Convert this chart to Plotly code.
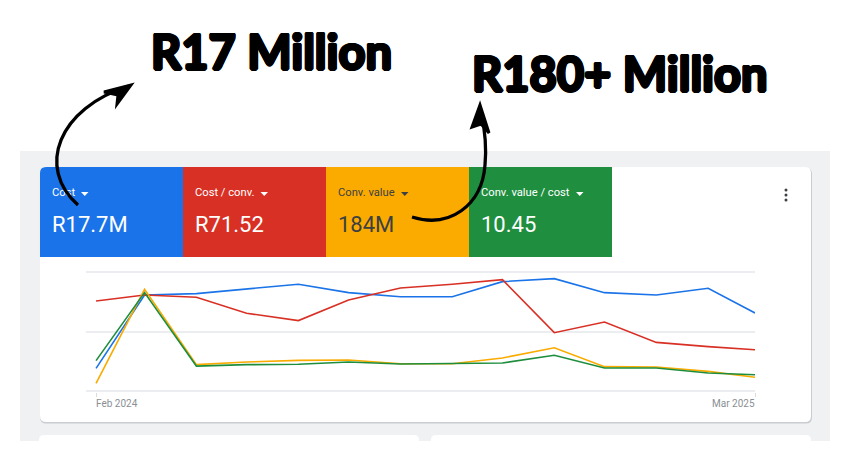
"""Ads overview card with four metric tiles and hand-drawn callouts."""

import plotly.graph_objects as go

W, H = 849, 453

months = ["2024-02-01", "2024-03-01", "2024-04-01", "2024-05-01", "2024-06-01", "2024-07-01", "2024-08-01",
          "2024-09-01", "2024-10-01", "2024-11-01", "2024-12-01", "2025-01-01", "2025-02-01", "2025-03-01"]

# each series is on its own hidden scale in the original, read here as % of chart height
cost = [18.9, 80.8, 82.0, 85.6, 89.9, 82.8, 79.4, 79.4, 92.1, 94.6, 82.8, 80.8, 86.5, 65.6]
cost_per_conv = [75.8, 80.8, 78.9, 65.4, 59.2, 76.6, 86.8, 89.9, 93.8, 49.0, 58.0, 40.8, 37.2, 34.6]
conv_value = [6.2, 85.6, 22.0, 24.2, 25.6, 25.9, 22.8, 22.8, 27.6, 36.3, 20.3, 20.0, 16.3, 11.3]
value_per_cost = [25.4, 82.8, 20.8, 22.0, 22.3, 24.2, 22.5, 22.8, 23.4, 29.9, 19.2, 19.2, 14.9, 13.5]

tile_labels = ["Cost", "Cost / conv.", "Conv. value", "Conv. value / cost"]
tile_values = ["R17.7M", "R71.52", "184M", "10.45"]

COLORS = {
    "blue": "#1a73e8",
    "red": "#d93025",
    "orange": "#f9ab00",
    "green": "#1e8e3e",
    "panel": "#eff1f3",
    "grid": "#ebedf0",
    "dark": "#3c4043",
    "gray": "#8a8f94",
}


def fx(x):
    return x / W


def fy(y):
    return 1 - y / H


def path(d):
    """Turn a list of (command, px, py...) into an SVG path in paper coordinates."""
    out = []
    for cmd, *pts in d:
        coords = " ".join(f"{fx(pts[i]):.5f},{fy(pts[i + 1]):.5f}" for i in range(0, len(pts), 2))
        out.append(f"{cmd} {coords}")
    return " ".join(out)


def rect(x0, y0, x1, y1, color, layer="below"):
    return dict(type="rect", xref="paper", yref="paper", x0=fx(x0), x1=fx(x1), y0=fy(y0), y1=fy(y1),
                fillcolor=color, line_width=0, layer=layer)


def rounded(x0, y0, x1, y1, r, color):
    d = path([("M", x0 + r, y0), ("L", x1 - r, y0), ("Q", x1, y0, x1, y0 + r), ("L", x1, y1 - r),
              ("Q", x1, y1, x1 - r, y1), ("L", x0 + r, y1), ("Q", x0, y1, x0, y1 - r),
              ("L", x0, y0 + r), ("Q", x0, y0, x0 + r, y0)]) + " Z"
    return dict(type="path", xref="paper", yref="paper", path=d, fillcolor=color, line_width=0, layer="below")


def text(s, x, y, size, color, family="Roboto", anchor="left", **font):
    return dict(text=s, xref="paper", yref="paper", x=fx(x), y=fy(y), xanchor=anchor, yanchor="middle",
                showarrow=False, font=dict(size=size, color=color, family=family, **font))


fig = go.Figure()
for name, values, color in [
    ("Cost", cost, COLORS["blue"]),
    ("Cost / conv.", cost_per_conv, COLORS["red"]),
    ("Conv. value", conv_value, COLORS["orange"]),
    ("Conv. value / cost", value_per_cost, COLORS["green"]),
]:
    fig.add_trace(go.Scatter(x=months, y=values, mode="lines", name=name,
                             line=dict(color=color, width=1.6), hoverinfo="skip"))

shapes = [
    rect(20, 151, 830, 441, COLORS["panel"]),
    rounded(39, 435, 419, 445, 5, "#ffffff"),
    rounded(431, 435, 811, 445, 5, "#ffffff"),
    rect(0, 441, W, H, "#ffffff"),
    rounded(40, 168, 812, 423.5, 6, "#c9ccd0"),
    rounded(40, 167, 811, 422, 6, "#ffffff"),
]

# metric tiles
tile_colors = [COLORS["blue"], "#d93025", "#fbab00", "#1f8e3f"]
tile_x = [40, 183, 326, 469, 612]
caret_x = [81, 260.5, 401, 576]
ink = ["#ffffff", "#ffffff", COLORS["dark"], "#ffffff"]
annotations = []
for i, color in enumerate(tile_colors):
    if i == 0:
        left = path([("M", 46, 167), ("L", 183, 167), ("L", 183, 257), ("L", 40, 257), ("L", 40, 173),
                     ("Q", 40, 167, 46, 167)]) + " Z"
        shapes.append(dict(type="path", xref="paper", yref="paper", path=left, fillcolor=color,
                           line_width=0, layer="below"))
    else:
        shapes.append(rect(tile_x[i], 167, tile_x[i + 1], 257, color))
    cx = caret_x[i]
    shapes.append(dict(type="path", xref="paper", yref="paper", line_width=0, fillcolor=ink[i], layer="below",
                       path=path([("M", cx, 192), ("L", cx + 7.5, 192), ("L", cx + 3.75, 196)]) + " Z"))
    annotations.append(text(tile_values[i], tile_x[i] + 10, 224, 22, ink[i]))

# tile labels go in a trace on a full-page axis, so the arrow can run over "Cost"
fig.add_trace(go.Scatter(
    x=[t + 12 for t in tile_x[:4]], y=[193.5] * 4, mode="text", text=tile_labels,
    textposition="middle right", textfont=dict(size=11.2, color=ink, family="Roboto"),
    xaxis="x2", yaxis="y2", hoverinfo="skip",
))

# kebab menu
for y in (190, 195, 200):
    shapes.append(dict(type="circle", xref="paper", yref="paper", x0=fx(784.5), x1=fx(787.5),
                       y0=fy(y + 1.5), y1=fy(y - 1.5), fillcolor=COLORS["dark"], line_width=0, layer="below"))

# hand-drawn arrows
shapes += [
    dict(type="path", xref="paper", yref="paper", layer="above", line=dict(color="#000000", width=3.3),
         path=path([("M", 78, 205), ("C", 36, 168, 58, 108, 129, 86)])),
    dict(type="path", xref="paper", yref="paper", layer="above", line=dict(color="#000000", width=3),
         fillcolor="#000000", path=path([("M", 104, 92), ("L", 131, 85), ("L", 117, 104), ("L", 118, 95)]) + " Z"),
    dict(type="path", xref="paper", yref="paper", layer="above", line=dict(color="#000000", width=3.3),
         path=path([("M", 412, 217), ("C", 450, 229, 482, 205, 485, 165), ("C", 487, 145, 484, 125, 481, 110)])),
    dict(type="path", xref="paper", yref="paper", layer="above", line=dict(color="#000000", width=3),
         fillcolor="#000000", path=path([("M", 472, 127), ("L", 480, 105), ("L", 489, 133), ("L", 481, 124)]) + " Z"),
]

heavy = ("1.5px 0 0 #000, -1.5px 0 0 #000, 0 1.5px 0 #000, 0 -1.5px 0 #000, "
         "1px 1px 0 #000, -1px 1px 0 #000, 1px -1px 0 #000, -1px -1px 0 #000")
annotations += [
    text("R17 Million", 149, 51, 47, "#000000", family="Lato", weight="bold", shadow=heavy),
    text("R180+ Million", 470, 73, 47, "#000000", family="Lato", weight="bold", shadow=heavy),
    dict(text="Feb 2024", xref="x", yref="paper", x=months[0], y=fy(403), xanchor="left", yanchor="middle",
         xshift=-2, showarrow=False, font=dict(size=10, color=COLORS["gray"], family="Roboto")),
    dict(text="Mar 2025", xref="x", yref="paper", x=months[-1], y=fy(403), xanchor="right", yanchor="middle",
         xshift=1.5, showarrow=False, font=dict(size=10, color=COLORS["gray"], family="Roboto")),
]

fig.update_layout(
    width=W, height=H,
    margin=dict(l=0, r=0, t=0, b=0),
    paper_bgcolor="#ffffff",
    plot_bgcolor="rgba(0,0,0,0)",
    showlegend=False,
    shapes=shapes,
    annotations=annotations,
    xaxis=dict(domain=[fx(86), fx(755)], type="date", range=["2024-01-26", "2025-03-01"], showgrid=False,
               zeroline=False, tickmode="array", tickvals=[months[0], months[-1]], ticktext=["", ""],
               ticks="outside", ticklen=4, tickcolor="#dadce0", tickwidth=1),
    # range padded by one unit so the gridlines at 0 and 100 stay drawn
    yaxis=dict(domain=[fy(391.9), fy(271.1)], range=[-1, 101], tickmode="array", tickvals=[0, 50, 100],
               showticklabels=False, gridcolor=COLORS["grid"], gridwidth=1.5, zeroline=False),
    xaxis2=dict(domain=[0, 1], range=[0, W], visible=False, anchor="y2"),
    yaxis2=dict(domain=[0, 1], range=[H, 0], visible=False, anchor="x2"),
)

fig.write_html("out.html", config=dict(displayModeBar=False),
               post_script="document.body.style.margin = '0';")
